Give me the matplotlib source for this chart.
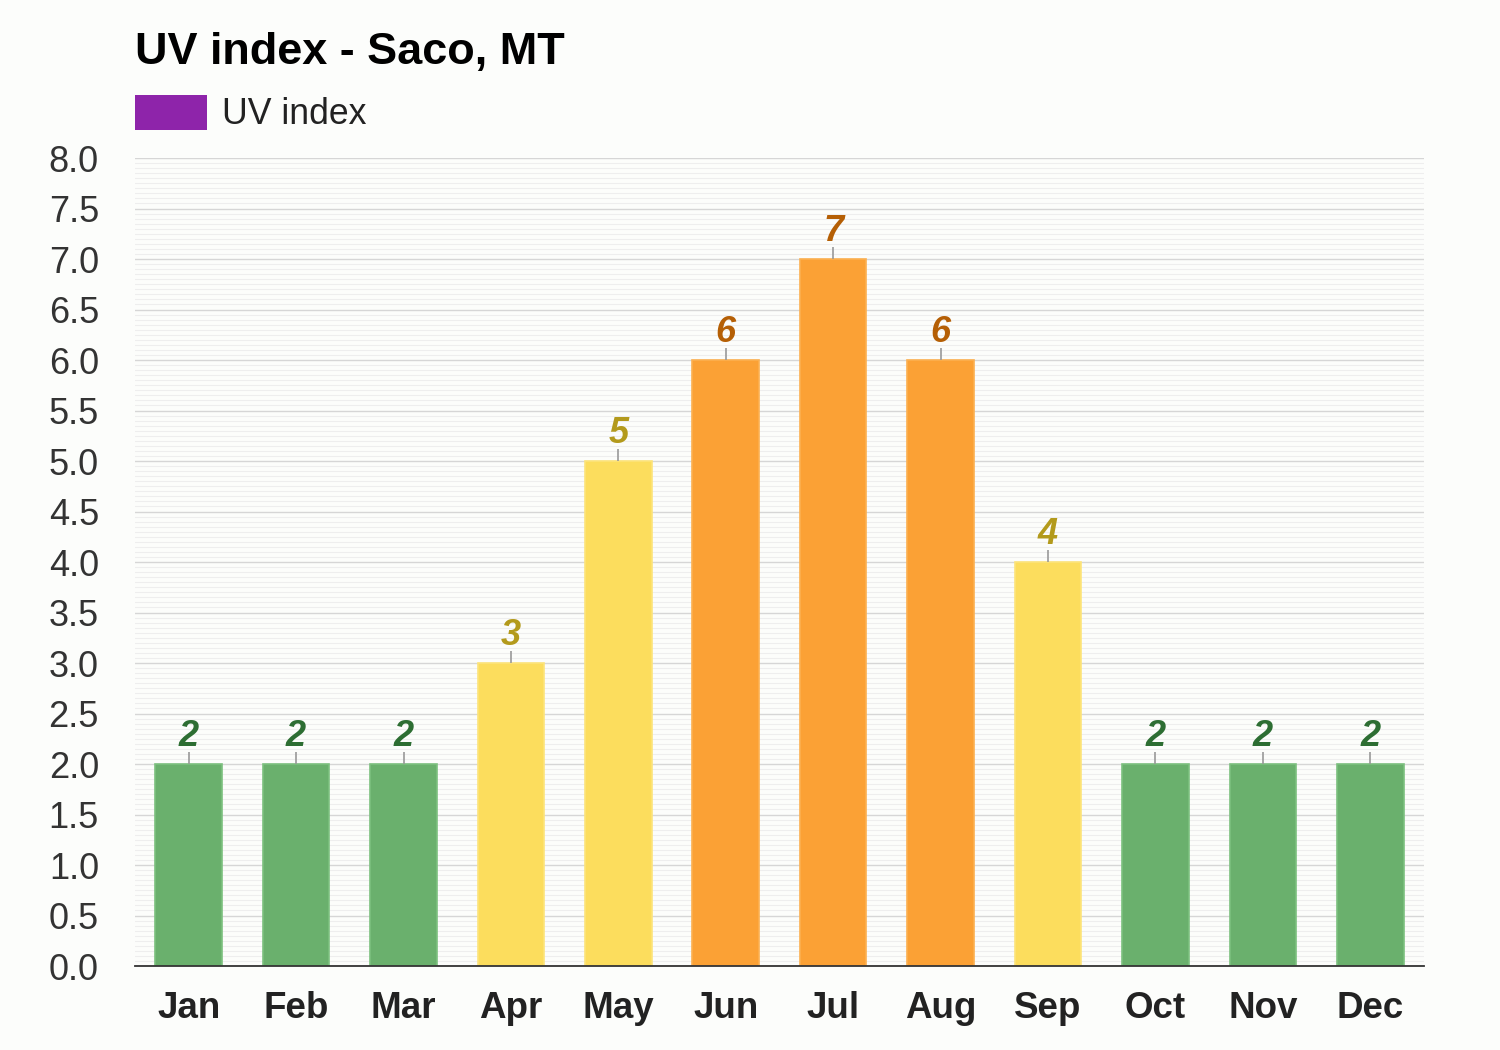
import matplotlib.pyplot as plt
from matplotlib.patches import Rectangle

months = ["Jan", "Feb", "Mar", "Apr", "May", "Jun", "Jul", "Aug", "Sep", "Oct", "Nov", "Dec"]
uv = [2, 2, 2, 3, 5, 6, 7, 6, 4, 2, 2, 2]
yticks = [0.0, 0.5, 1.0, 1.5, 2.0, 2.5, 3.0, 3.5, 4.0, 4.5, 5.0, 5.5, 6.0, 6.5, 7.0, 7.5, 8.0]


def colors_for(v):
    # bar fill, bar edge, label colour by UV level
    if v <= 2:
        return "#6ab06d", "#7cc07f", "#2d6e33"
    if v <= 5:
        return "#fcdd5d", "#fde47a", "#b39a1c"
    return "#fba135", "#fcb050", "#b55f05"


plt.rcParams['font.family'] = ['Liberation Sans', 'DejaVu Sans']
bg = "#fcfdfb"

fig = plt.figure(figsize=(15, 10.5), dpi=100, facecolor=bg)
ax = fig.add_axes([0.09, 0.08, 0.8593, 0.7695], facecolor=bg)

x = list(range(len(months)))
for i, v in zip(x, uv):
    fill, edge, lab = colors_for(v)
    ax.bar(i, v, width=0.62, color=fill, edgecolor=edge, linewidth=1.2, zorder=3)
    ax.vlines(i, v, v + 0.12, color="#999999", linewidth=1.2, zorder=3)
    ax.text(i, v + 0.18, str(v), ha="center", va="baseline", fontsize=26,
            fontweight="bold", fontstyle="italic", color=lab, zorder=4)

ax.set_xlim(-0.5, 11.5)
ax.set_ylim(0, 8)
ax.set_yticks(yticks)
ax.set_yticklabels([f"{t:.1f}" for t in yticks], fontsize=26, color="#333333")
ax.set_yticks([k * 0.05 for k in range(161)], minor=True)
ax.set_xticks(x)
ax.set_xticklabels(months, fontsize=26.5, fontweight="bold", color="#222222")
ax.tick_params(axis="y", which="both", length=0, pad=26)
ax.tick_params(axis="x", length=0, pad=18)

ax.grid(axis="y", which="major", color="#d6d6d6", linewidth=1.0, zorder=0)
ax.grid(axis="y", which="minor", color="#eeeeee", linewidth=0.8, zorder=0)
ax.set_axisbelow(True)

for s in ["top", "right", "left"]:
    ax.spines[s].set_visible(False)
ax.spines["bottom"].set_color("#333333")
ax.spines["bottom"].set_linewidth(1.3)
ax.spines["bottom"].set_zorder(5)

fig.text(0.09, 1 - 64 / 1050, "UV index - Saco, MT", fontsize=32.4, fontweight="bold",
         color="#000000", va="baseline")
fig.patches.append(Rectangle((135 / 1500, 1 - 130 / 1050), 72 / 1500, 35 / 1050,
                             transform=fig.transFigure, facecolor="#8e24aa", edgecolor="none"))
fig.text(222 / 1500, 1 - 124 / 1050, "UV index", fontsize=25.7, color="#222222", va="baseline")

fig.savefig("out.png", dpi=100, facecolor=bg)
